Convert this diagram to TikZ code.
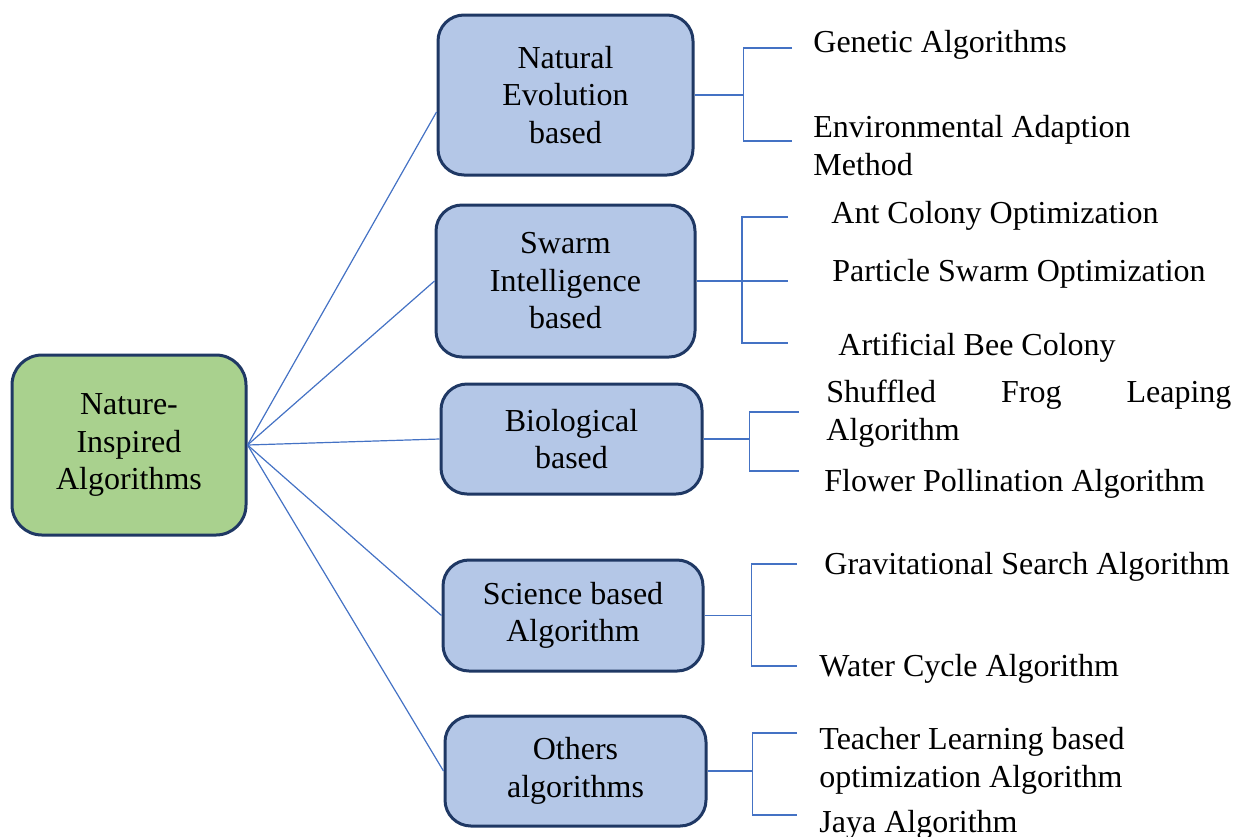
\documentclass[tikz,border=0pt]{standalone}
\usepackage{fontspec}
\setmainfont{Liberation Serif}
\definecolor{nagreen}{HTML}{A9D18E}
\definecolor{nablue}{HTML}{B4C7E7}
\definecolor{nanavy}{HTML}{1F3864}
\definecolor{naline}{HTML}{4472C4}

\begin{document}
\begin{tikzpicture}[
  x=0.5pt, y=-0.5pt,
  box/.style={draw=nanavy, line width=1.5pt, rounded corners=13pt, align=center, inner sep=0pt, font=\fontsize{16}{18.75}\selectfont},
  leaf/.style={anchor=base west, align=left, inner sep=0pt, font=\fontsize{16}{18.75}\selectfont},
  link/.style={draw=naline, line width=0.6pt},
]
  \useasboundingbox (0,0) rectangle (1234,836);

  % root and the five families
  \node[box, fill=nagreen, minimum width=117pt, minimum height=90pt, rounded corners=15pt] (root) at (129,445) {Nature-\\Inspired\\Algorithms};
  \node[box, fill=nablue, minimum width=127.5pt, minimum height=80pt] (nat) at (565.5,95) {Natural\\Evolution\\based};
  \node[box, fill=nablue, minimum width=129.5pt, minimum height=76pt] (swarm) at (565.5,281) {Swarm\\Intelligence\\based};
  \node[box, fill=nablue, minimum width=130.5pt, minimum height=55pt] (bio) at (571.5,439) {Biological\\based};
  \node[box, fill=nablue, minimum width=130pt, minimum height=55.5pt] (sci) at (573,615.5) {Science based\\Algorithm};
  \node[box, fill=nablue, minimum width=130.5pt, minimum height=55pt] (oth) at (575.5,771) {Others\\algorithms};

  % algorithms (base = baseline of the last line)
  \node[leaf] (gen) at (813,52) {Genetic Algorithms};
  \node[leaf] (env) at (813,175) {Environmental Adaption\\Method};
  \node[leaf] (ant) at (831,223) {Ant Colony Optimization};
  \node[leaf] (pso) at (832,281) {Particle Swarm Optimization};
  \node[leaf] (abc) at (838,355) {Artificial Bee Colony};
  \node[leaf] (sfl) at (826,440) {\makebox[202.5pt][s]{Shuffled Frog Leaping}\\Algorithm};
  \node[leaf] (fpa) at (824,491) {Flower Pollination Algorithm};
  \node[leaf] (gsa) at (824,574) {Gravitational Search Algorithm};
  \node[leaf] (wca) at (819,676) {Water Cycle Algorithm};
  \node[leaf] (tlb) at (819,787) {Teacher Learning based\\optimization Algorithm};
  \node[leaf] (jaya) at (819,832) {Jaya Algorithm};

  % fan out of the root
  \draw[link] (root.east) -- ([yshift=-8.5pt]nat.west);
  \draw[link] (root.east) -- (swarm.west);
  \draw[link] (root.east) -- (bio.west);
  \draw[link] (root.east) -- (sci.west);
  \draw[link] (root.east) -- (oth.west);

  % bracket ends
  \coordinate (gen-end) at (792,48);
  \coordinate (env-end) at (792,141);
  \coordinate (ant-end) at (788,217);
  \coordinate (pso-end) at (788,281);
  \coordinate (abc-end) at (788,343);
  \coordinate (sfl-end) at (799,412);
  \coordinate (fpa-end) at (799,471);
  \coordinate (gsa-end) at (797,564);
  \coordinate (wca-end) at (797,666);
  \coordinate (tlb-end) at (797,733);
  \coordinate (jaya-end) at (797,815);

  % brackets
  \draw[link] (nat.east) -- ++(49,0) coordinate (nat-fork);
  \draw[link] (gen-end) -| (nat-fork) |- (env-end);
  \draw[link] (swarm.east) -- (pso-end);
  \draw[link] (ant-end) -| (742,281) |- (abc-end);
  \draw[link] (bio.east) -- ++(46,0) coordinate (bio-fork);
  \draw[link] (sfl-end) -| (bio-fork) |- (fpa-end);
  \draw[link] (sci.east) -- ++(47,0) coordinate (sci-fork);
  \draw[link] (gsa-end) -| (sci-fork) |- (wca-end);
  \draw[link] (oth.east) -- ++(45,0) coordinate (oth-fork);
  \draw[link] (tlb-end) -| (oth-fork) |- (jaya-end);
\end{tikzpicture}
\end{document}
